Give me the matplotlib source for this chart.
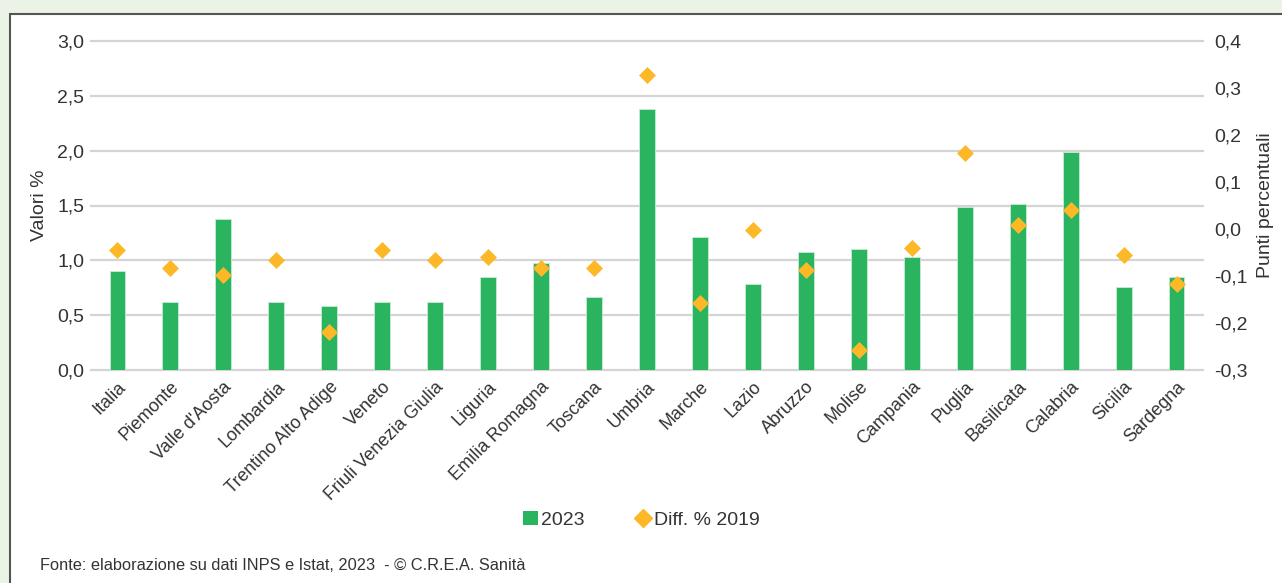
import matplotlib.pyplot as plt
from matplotlib.patches import Rectangle
from matplotlib.ticker import FuncFormatter
from matplotlib.lines import Line2D
from matplotlib import font_manager

names = sorted({f.name for f in font_manager.fontManager.ttflist})
font = "Liberation Sans Narrow" if "Liberation Sans Narrow" in names else "Liberation Sans"
plt.rcParams["font.family"] = [font, "DejaVu Sans"]

regioni = ["Italia", "Piemonte", "Valle d'Aosta", "Lombardia", "Trentino Alto Adige",
           "Veneto", "Friuli Venezia Giulia", "Liguria", "Emilia Romagna", "Toscana",
           "Umbria", "Marche", "Lazio", "Abruzzo", "Molise", "Campania", "Puglia",
           "Basilicata", "Calabria", "Sicilia", "Sardegna"]
valori_2023 = [0.90, 0.62, 1.38, 0.62, 0.58, 0.62, 0.62, 0.85, 0.98, 0.67,
               2.38, 1.21, 0.78, 1.08, 1.10, 1.03, 1.49, 1.51, 1.99, 0.76, 0.85]
diff_2019 = [-0.045, -0.082, -0.098, -0.066, -0.220, -0.045, -0.066, -0.060, -0.082, -0.083,
             0.327, -0.157, -0.003, -0.087, -0.257, -0.040, 0.162, 0.008, 0.040, -0.055, -0.118]

GREEN = "#2BB460"
ORANGE = "#FDB827"
TXT = "#333333"

fig = plt.figure(figsize=(12.82, 5.83), dpi=100)
fig.patch.set_facecolor("#EBF2E6")
# white panel with dark border (open on right and bottom)
fig.patches.append(Rectangle((10 / 1282, -0.05), 1.1, 1 - 14 / 583 + 0.05,
                             transform=fig.transFigure, facecolor="white",
                             edgecolor="#555555", linewidth=1.5, zorder=-5))

ax = fig.add_axes([91 / 1282, 1 - 370 / 583, (1203 - 91) / 1282, (370 - 41) / 583])
ax.set_facecolor("none")
x = range(len(regioni))
ax.bar(x, valori_2023, width=0.30, color=GREEN, edgecolor="#C8EBD4", linewidth=0.6, zorder=2)
ax.set_xlim(-0.5, len(regioni) - 0.5)
ax.set_ylim(0, 3.0)
ax.set_yticks([0, 0.5, 1.0, 1.5, 2.0, 2.5, 3.0])
ax.yaxis.set_major_formatter(FuncFormatter(lambda v, p: f"{v:.1f}".replace(".", ",")))
ax.grid(axis="y", color="#D4D4D4", linewidth=1.6, zorder=0)
ax.set_axisbelow(True)
for g in ax.yaxis.get_gridlines():
    g.set_clip_on(False)
for s in ax.spines.values():
    s.set_visible(False)
ax.tick_params(axis="y", length=0, labelsize=14, colors=TXT, pad=5)
ax.set_xticks(list(x))
ax.set_xticklabels(regioni, rotation=45, ha="right", rotation_mode="anchor", fontsize=13)
ax.tick_params(axis="x", length=0, colors=TXT, pad=6)
ax.set_ylabel("Valori %", fontsize=14, color=TXT)
ax.yaxis.set_label_coords(-0.039, 0.5)

ax2 = ax.twinx()
ax2.scatter(x, diff_2019, marker="D", s=75, color=ORANGE, zorder=3, linewidths=0)
ax2.set_ylim(-0.3, 0.4)
ax2.set_yticks([-0.3, -0.2, -0.1, 0.0, 0.1, 0.2, 0.3, 0.4])
ax2.yaxis.set_major_formatter(FuncFormatter(lambda v, p: f"{v:.1f}".replace(".", ",")))
for s in ax2.spines.values():
    s.set_visible(False)
ax2.tick_params(axis="y", length=0, labelsize=14, colors=TXT, pad=8)
ax2.set_ylabel("Punti percentuali", fontsize=14, color=TXT)
ax2.yaxis.set_label_coords(1.049, 0.5)

handles = [Rectangle((0, 0), 1, 1, facecolor=GREEN),
           Line2D([], [], marker="D", color=ORANGE, linestyle="none", markersize=9)]
fig.legend(handles, ["2023", "Diff. % 2019"], loc="center", bbox_to_anchor=(0.5, 1 - 520 / 583),
           ncol=2, frameon=False, fontsize=14, handlelength=0.8, handletextpad=0.15,
           columnspacing=2.6, labelcolor=TXT)

fig.text(40 / 1282, 1 - 566 / 583, "Fonte: elaborazione su dati INPS e Istat, 2023  - \u00a9 C.R.E.A. Sanit\u00e0",
         fontsize=11.8, color=TXT, va="center", ha="left")

fig.savefig("out.png", dpi=100, facecolor=fig.get_facecolor())
